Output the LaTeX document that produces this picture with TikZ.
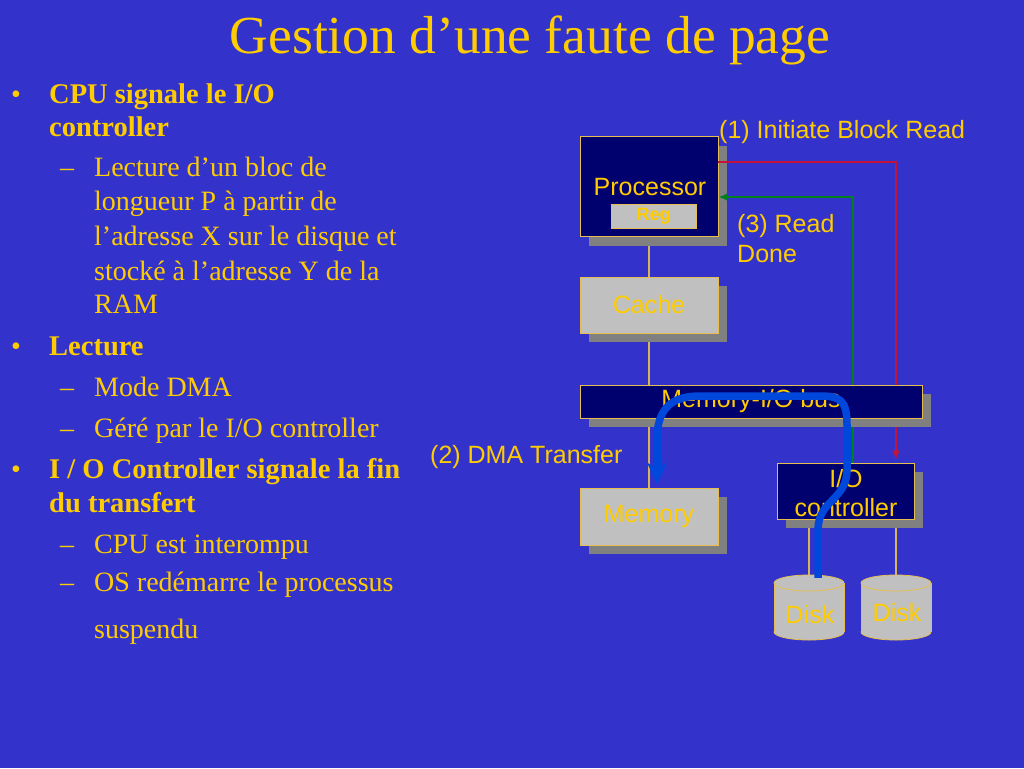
\documentclass[tikz,border=0pt]{standalone}
\usepackage{fontspec}
\setmainfont{Liberation Serif}
\newfontfamily\diagfont{Liberation Sans}
\usetikzlibrary{shadows,arrows.meta}
\definecolor{bgblue}{RGB}{51,51,204}
\definecolor{txtyellow}{RGB}{255,204,0}
\definecolor{navyfill}{RGB}{0,0,110}
\definecolor{boxgray}{RGB}{192,192,192}
\definecolor{shadowgray}{RGB}{128,128,128}
\definecolor{edgeyellow}{RGB}{230,190,80}
\definecolor{conntan}{RGB}{215,180,90}
\definecolor{redline}{RGB}{195,20,55}
\definecolor{greenline}{RGB}{0,128,30}
\definecolor{dmablue}{RGB}{0,72,220}
\pgfdeclarelayer{bgl}
\pgfdeclarelayer{back}
\pgfdeclarelayer{front}
\pgfsetlayers{bgl,back,main,front}
\tikzset{
  shad/.style={drop shadow={shadow xshift=8.5pt,shadow yshift=-9pt,fill=shadowgray,opacity=1}},
  navybox/.style={rectangle,draw=edgeyellow,line width=0.9pt,fill=navyfill,inner sep=0pt,shad},
  graybox/.style={rectangle,draw=edgeyellow,line width=0.9pt,fill=boxgray,inner sep=0pt,shad},
  dlabel/.style={text=txtyellow,font=\diagfont\fontsize{25}{30}\selectfont,inner sep=0pt},
  boxtext/.style={text=txtyellow,font=\diagfont\fontsize{25}{29}\selectfont,align=center,inner sep=0pt},
  conn/.style={draw=conntan,line width=1.1pt},
  sigline/.style={line width=2.6pt},
  mainline/.style={anchor=base west,inner sep=0pt,text=txtyellow,font=\fontsize{28.5}{32}\selectfont\bfseries},
  subline/.style={anchor=base west,inner sep=0pt,text=txtyellow,font=\fontsize{28}{32}\selectfont},
  bul/.style={anchor=base west,inner sep=0pt,text=txtyellow,font=\fontsize{28}{32}\selectfont},
  disklbl/.style={draw=none,minimum width=70,minimum height=65,inner sep=0pt}
}
\begin{document}
\begin{tikzpicture}[x=1pt,y=-1pt]
\begin{pgfonlayer}{bgl}
\fill[bgblue] (0,0) rectangle (1024,768);
\end{pgfonlayer}
\useasboundingbox (0,0) rectangle (1024,768);
% title
\node[anchor=base,inner sep=0pt,text=txtyellow,font=\fontsize{53.5}{60}\selectfont] (title) at (530,53) {Gestion d’une faute de page};
% left text
\node[bul] (b1) at (11,103) {•};
\node[mainline] (l1) at (49,103) {CPU signale le I/O};
\node[mainline] (l2) at (49,136) {controller};
\node[bul] (d1) at (60,176) {–};
\node[subline] (l3) at (94,176) {Lecture d’un bloc de};
\node[subline] (l4) at (94,210) {longueur P à partir de};
\node[subline] (l5) at (94,245) {l’adresse X sur le disque et};
\node[subline] (l6) at (94,280) {stocké à l’adresse Y de la};
\node[subline] (l7) at (94,313) {RAM};
\node[bul] (b2) at (11,355) {•};
\node[mainline] (l8) at (49,355) {Lecture};
\node[bul] (d2) at (60,396) {–};
\node[subline] (l9) at (94,396) {Mode DMA};
\node[bul] (d3) at (60,437) {–};
\node[subline] (l10) at (94,437) {Géré par le I/O controller};
\node[bul] (b3) at (11,478) {•};
\node[mainline] (l11) at (49,478) {I / O Controller signale la fin};
\node[mainline] (l12) at (49,512) {du transfert};
\node[bul] (d4) at (60,553) {–};
\node[subline] (l13) at (94,553) {CPU est interompu};
\node[bul] (d5) at (60,591) {–};
\node[subline] (l14) at (94,591) {OS redémarre le processus};
\node[subline] (l15) at (94,638) {suspendu};
% diagram boxes
\node[navybox,minimum width=138,minimum height=100] (proc) at (649,186.5) {};
\node[boxtext] (proct) at (650,187) {Processor};
\node[rectangle,draw=edgeyellow,line width=0.9pt,fill=boxgray,minimum width=85,minimum height=24,inner sep=0pt,text=txtyellow,font=\diagfont\bfseries\fontsize{18}{20}\selectfont] (reg) at (653.5,216.5) {Reg};
\node[graybox,minimum width=138,minimum height=56,boxtext] (cache) at (649,305) {Cache};
\begin{pgfonlayer}{front}
\node[navybox,minimum width=342,minimum height=33,boxtext] (bus) at (751,401.5) {Memory-I/O bus};
\end{pgfonlayer}
\node[graybox,minimum width=138,minimum height=57,boxtext] (mem) at (649,516.5) {Memory};
\node[navybox,minimum width=137,minimum height=56] (ioc) at (845.5,491) {};
\node[boxtext] (ioct) at (846,493) {I/O\\controller};
% disks
\foreach \n/\cx in {disk1/809,disk2/896}{
  \fill[boxgray,draw=edgeyellow,line width=0.8pt] (\cx,632) ellipse[x radius=35,y radius=8];
  \fill[boxgray] (\cx-35,583) rectangle (\cx+35,632);
  \draw[edgeyellow,line width=0.8pt] (\cx-35,583) -- (\cx-35,632) (\cx+35,583) -- (\cx+35,632);
  \filldraw[fill=boxgray,draw=edgeyellow,line width=0.8pt] (\cx,583) ellipse[x radius=35,y radius=8];
  \node[disklbl] (\n) at (\cx,607.5) {};
}
\node[boxtext] (d1t) at (810,615) {Disk};
\node[boxtext] (d2t) at (897,613) {Disk};
% connectors behind the boxes
\begin{pgfonlayer}{back}
\draw[conn] (proc.south) -- (cache.north);
\draw[conn] (cache.south) -- (bus.north -| cache.south);
\draw[conn] (bus.south -| mem.north) -- (mem.north);
\draw[conn] (disk1.north |- ioc.south) -- (disk1.north);
\draw[conn] (disk2.north |- ioc.south) -- (disk2.north);
\end{pgfonlayer}
% signal lines (under the bus, over the processor shadow)
\draw[redline,sigline,-{Latex[length=9pt,width=8pt]},shorten >=3pt] ([yshift=24.5pt]proc.east) -| ([xshift=50.5pt]ioc.north);
\draw[greenline,sigline,-{Latex[length=9pt,width=8pt]}] ([xshift=7.5pt]ioc.north) |- ([yshift=-10.5pt]proc.east);
% labels
\node[dlabel,anchor=west] (lab1) at (719,132) {(1) Initiate Block Read};
\node[dlabel,anchor=north west,align=left,font=\diagfont\fontsize{25}{30}\selectfont] (lab3) at (737,214) {(3) Read\\Done};
\node[dlabel,anchor=west] (lab2) at (430,457) {(2) DMA Transfer};
% DMA transfer curve
\begin{pgfonlayer}{front}
\draw[dmablue,line width=7.5pt] ([xshift=9pt,yshift=-3pt]disk1.north) -- (818,530) .. controls (818,500) and (847,500) .. (847,470) -- (847,425) .. controls (847,400) and (840,396) .. (820,396) -- (700,396) .. controls (670,396) and (657,410) .. (657,440) -- (657,468);
\fill[dmablue] ([xshift=8pt,yshift=3pt]mem.north) -- ([xshift=-2pt,yshift=25pt]mem.north) -- ([xshift=8pt,yshift=19pt]mem.north) -- ([xshift=18pt,yshift=25pt]mem.north) -- cycle;
\end{pgfonlayer}
\end{tikzpicture}
\end{document}
